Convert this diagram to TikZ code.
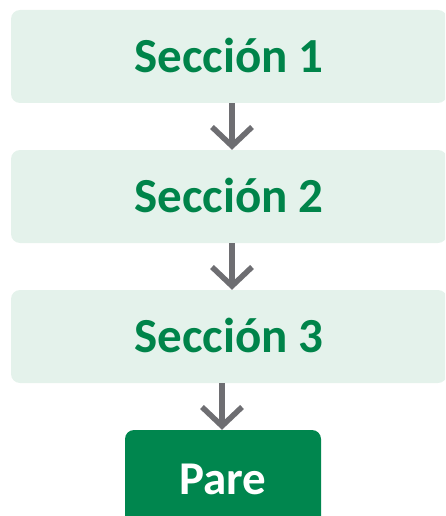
\documentclass[tikz,border=0pt]{standalone}
\usepackage{fontspec}
\setmainfont{Carlito}
\usetikzlibrary{arrows.meta}
\definecolor{boxfill}{HTML}{E4F2EB}
\definecolor{txtgreen}{HTML}{00844A}
\definecolor{parefill}{HTML}{00864E}
\definecolor{arrgray}{HTML}{6E6E72}
\tikzset{
  secbox/.style={fill=boxfill, draw=none, rounded corners=9pt, minimum width=436pt, minimum height=93pt, inner sep=0pt,
    text=txtgreen, font=\fontsize{49}{56}\selectfont\bfseries, text height=31.5pt, text depth=0pt},
  parebox/.style={fill=parefill, draw=none, rounded corners=9pt, minimum width=196pt, minimum height=98pt, inner sep=0pt,
    text=white, font=\fontsize{47}{54}\selectfont\bfseries, text height=30pt, text depth=0pt},
  arr/.style={draw=arrgray, line width=5.5pt, -{Straight Barb[length=19pt,width=40pt,line cap=butt,line join=miter]}}
}
\begin{document}
\begin{tikzpicture}[x=1pt,y=1pt]
\useasboundingbox (0,0) rectangle (445,-516);
\clip (0,0) rectangle (445,-516);
\node[secbox] (s1) at (229,-56.5) {Sección 1};
\node[secbox] (s2) at (229,-196.5) {Sección 2};
\node[secbox] (s3) at (229,-336.5) {Sección 3};
\node[parebox] (pare) at (223,-479) {Pare};
\draw[arr] ([xshift=3pt]s1.south) -- ([xshift=3pt]s2.north);
\draw[arr] ([xshift=3pt]s2.south) -- ([xshift=3pt]s3.north);
\draw[arr] ([xshift=-1pt]s3.south -| pare.north) -- ([xshift=-1pt]pare.north);
\end{tikzpicture}
\end{document}
